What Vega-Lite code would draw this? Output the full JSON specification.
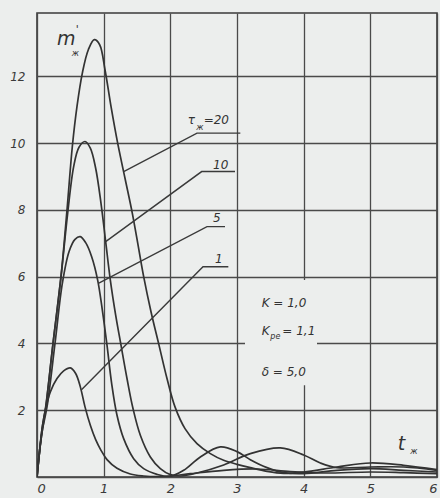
{
  "$schema": "https://vega.github.io/schema/vega-lite/v6.json",
  "width": 400,
  "height": 464,
  "autosize": "none",
  "padding": {"left": 37, "top": 13, "right": 3, "bottom": 21},
  "background": "#eceeed",
  "config": {
    "view": {"stroke": "#3a3a3a", "strokeWidth": 1.6},
    "axis": {
      "grid": true, "gridColor": "#4a4a4a", "gridWidth": 1.3, "gridOpacity": 1,
      "domain": false, "ticks": false,
      "labelFont": "DejaVu Sans", "labelFontStyle": "italic", "labelFontSize": 12,
      "labelColor": "#3a3a3a", "title": null
    }
  },
  "datasets": {
    "curves": [
      {"s":"1","t":0,"m":0},{"s":"1","t":0.04,"m":0.8},{"s":"1","t":0.08,"m":1.5},{"s":"1","t":0.13,"m":2.05},{"s":"1","t":0.2,"m":2.55},{"s":"1","t":0.3,"m":2.95},{"s":"1","t":0.4,"m":3.18},{"s":"1","t":0.5,"m":3.27},{"s":"1","t":0.58,"m":3.1},{"s":"1","t":0.65,"m":2.7},{"s":"1","t":0.72,"m":2.1},{"s":"1","t":0.8,"m":1.55},{"s":"1","t":0.88,"m":1.12},{"s":"1","t":0.96,"m":0.8},{"s":"1","t":1.05,"m":0.52},{"s":"1","t":1.2,"m":0.26},{"s":"1","t":1.4,"m":0.09},{"s":"1","t":1.6,"m":0.03},{"s":"1","t":1.8,"m":0.01},{"s":"1","t":2.0,"m":0.03},{"s":"1","t":2.3,"m":0.1},{"s":"1","t":2.8,"m":0.2},{"s":"1","t":3.3,"m":0.24},{"s":"1","t":3.8,"m":0.16},{"s":"1","t":4.3,"m":0.12},{"s":"1","t":5.0,"m":0.15},{"s":"1","t":5.5,"m":0.13},{"s":"1","t":6.0,"m":0.1},
      {"s":"5","t":0,"m":0},{"s":"5","t":0.04,"m":0.8},{"s":"5","t":0.08,"m":1.4},{"s":"5","t":0.15,"m":2.1},{"s":"5","t":0.27,"m":4.0},{"s":"5","t":0.38,"m":5.8},{"s":"5","t":0.48,"m":6.75},{"s":"5","t":0.57,"m":7.12},{"s":"5","t":0.65,"m":7.2},{"s":"5","t":0.73,"m":7.02},{"s":"5","t":0.82,"m":6.6},{"s":"5","t":0.91,"m":5.9},{"s":"5","t":0.98,"m":5.0},{"s":"5","t":1.05,"m":3.95},{"s":"5","t":1.12,"m":2.8},{"s":"5","t":1.2,"m":1.85},{"s":"5","t":1.3,"m":1.15},{"s":"5","t":1.45,"m":0.55},{"s":"5","t":1.6,"m":0.25},{"s":"5","t":1.8,"m":0.08},{"s":"5","t":2.0,"m":0.02},{"s":"5","t":2.2,"m":0.2},{"s":"5","t":2.45,"m":0.6},{"s":"5","t":2.75,"m":0.9},{"s":"5","t":3.0,"m":0.76},{"s":"5","t":3.2,"m":0.52},{"s":"5","t":3.45,"m":0.28},{"s":"5","t":3.7,"m":0.13},{"s":"5","t":4.0,"m":0.1},{"s":"5","t":4.5,"m":0.2},{"s":"5","t":5.0,"m":0.25},{"s":"5","t":5.5,"m":0.2},{"s":"5","t":6.0,"m":0.15},
      {"s":"10","t":0,"m":0},{"s":"10","t":0.04,"m":0.8},{"s":"10","t":0.08,"m":1.5},{"s":"10","t":0.13,"m":2.1},{"s":"10","t":0.24,"m":4.0},{"s":"10","t":0.36,"m":6.0},{"s":"10","t":0.46,"m":7.9},{"s":"10","t":0.55,"m":9.3},{"s":"10","t":0.63,"m":9.88},{"s":"10","t":0.72,"m":10.05},{"s":"10","t":0.8,"m":9.85},{"s":"10","t":0.88,"m":9.25},{"s":"10","t":0.96,"m":8.2},{"s":"10","t":1.03,"m":7.05},{"s":"10","t":1.1,"m":5.9},{"s":"10","t":1.18,"m":4.85},{"s":"10","t":1.26,"m":3.95},{"s":"10","t":1.35,"m":2.95},{"s":"10","t":1.44,"m":2.05},{"s":"10","t":1.55,"m":1.25},{"s":"10","t":1.7,"m":0.6},{"s":"10","t":1.85,"m":0.25},{"s":"10","t":2.0,"m":0.07},{"s":"10","t":2.15,"m":0.03},{"s":"10","t":2.4,"m":0.12},{"s":"10","t":2.8,"m":0.36},{"s":"10","t":3.2,"m":0.7},{"s":"10","t":3.65,"m":0.87},{"s":"10","t":4.0,"m":0.66},{"s":"10","t":4.25,"m":0.42},{"s":"10","t":4.5,"m":0.28},{"s":"10","t":5.0,"m":0.3},{"s":"10","t":5.5,"m":0.3},{"s":"10","t":6.0,"m":0.2},
      {"s":"20","t":0,"m":0},{"s":"20","t":0.04,"m":0.8},{"s":"20","t":0.08,"m":1.4},{"s":"20","t":0.13,"m":2.05},{"s":"20","t":0.24,"m":4.0},{"s":"20","t":0.36,"m":6.0},{"s":"20","t":0.45,"m":8.0},{"s":"20","t":0.53,"m":9.9},{"s":"20","t":0.6,"m":11.1},{"s":"20","t":0.68,"m":12.1},{"s":"20","t":0.77,"m":12.8},{"s":"20","t":0.86,"m":13.1},{"s":"20","t":0.94,"m":12.95},{"s":"20","t":1.02,"m":12.2},{"s":"20","t":1.11,"m":11.1},{"s":"20","t":1.21,"m":10.0},{"s":"20","t":1.32,"m":8.95},{"s":"20","t":1.43,"m":7.9},{"s":"20","t":1.52,"m":6.9},{"s":"20","t":1.6,"m":6.0},{"s":"20","t":1.71,"m":4.95},{"s":"20","t":1.83,"m":3.95},{"s":"20","t":1.95,"m":2.95},{"s":"20","t":2.07,"m":2.1},{"s":"20","t":2.22,"m":1.45},{"s":"20","t":2.4,"m":1.0},{"s":"20","t":2.6,"m":0.7},{"s":"20","t":2.8,"m":0.5},{"s":"20","t":3.0,"m":0.38},{"s":"20","t":3.2,"m":0.28},{"s":"20","t":3.45,"m":0.17},{"s":"20","t":3.7,"m":0.11},{"s":"20","t":4.0,"m":0.15},{"s":"20","t":4.5,"m":0.3},{"s":"20","t":5.0,"m":0.42},{"s":"20","t":5.5,"m":0.35},{"s":"20","t":6.0,"m":0.22}
    ],
    "leaders": [
      {"lead":"20","o":1,"t":1.3,"m":9.15},{"lead":"20","o":2,"t":2.4,"m":10.3},{"lead":"20","o":3,"t":3.05,"m":10.3},
      {"lead":"10","o":1,"t":1.03,"m":7.05},{"lead":"10","o":2,"t":2.47,"m":9.15},{"lead":"10","o":3,"t":2.97,"m":9.15},
      {"lead":"5","o":1,"t":0.92,"m":5.8},{"lead":"5","o":2,"t":2.55,"m":7.5},{"lead":"5","o":3,"t":2.82,"m":7.5},
      {"lead":"1","o":1,"t":0.66,"m":2.6},{"lead":"1","o":2,"t":2.49,"m":6.3},{"lead":"1","o":3,"t":2.87,"m":6.3}
    ],
    "patch": [{"t1":3.12,"t2":4.2,"m1":2.75,"m2":5.9}],
    "labels": [
      {"txt":"τ","t":2.26,"m":10.56},
      {"txt":"=20","t":2.5,"m":10.56},
      {"txt":"10","t":2.64,"m":9.23},
      {"txt":"5","t":2.64,"m":7.63},
      {"txt":"1","t":2.67,"m":6.4},
      {"txt":"K = 1,0","t":3.37,"m":5.1},
      {"txt":"K","t":3.37,"m":4.25},
      {"txt":"= 1,1","t":3.68,"m":4.25},
      {"txt":"δ =  5,0","t":3.37,"m":3.02}
    ],
    "subs": [
      {"txt":"ж","t":2.39,"m":10.4},
      {"txt":"pe","t":3.5,"m":4.13},
      {"txt":"ж","t":0.52,"m":12.62},
      {"txt":"ж","t":5.6,"m":0.68}
    ],
    "biglabels": [
      {"txt":"m","t":0.3,"m":12.95},
      {"txt":"t","t":5.41,"m":0.8}
    ],
    "primes": [
      {"txt":"'","t":0.58,"m":13.3}
    ]
  },
  "encoding": {
    "x": {"field": "t", "type": "quantitative", "scale": {"domain": [0, 6], "nice": false},
          "axis": {"values": [0,1,2,3,4,5,6], "labelPadding": 5, "labelFontSize": 13}},
    "y": {"field": "m", "type": "quantitative", "scale": {"domain": [0, 13.9], "nice": false},
          "axis": {"values": [0,2,4,6,8,10,12], "labelPadding": 12, "labelExpr": "datum.value == 0 ? '' : datum.label"}}
  },
  "layer": [
    {
      "data": {"name": "patch"},
      "mark": {"type": "rect", "fill": "#eceeed"},
      "encoding": {
        "x": {"field": "t1", "type": "quantitative"},
        "x2": {"field": "t2"},
        "y": {"field": "m1", "type": "quantitative"},
        "y2": {"field": "m2"}
      }
    },
    {
      "data": {"name": "curves"},
      "mark": {"type": "line", "interpolate": "catmull-rom", "color": "#333333", "strokeWidth": 1.7, "clip": true},
      "encoding": {"detail": {"field": "s"}}
    },
    {
      "data": {"name": "leaders"},
      "mark": {"type": "line", "color": "#3a3a3a", "strokeWidth": 1.4},
      "encoding": {"detail": {"field": "lead"}, "order": {"field": "o"}}
    },
    {
      "data": {"name": "labels"},
      "mark": {"type": "text", "align": "left", "baseline": "alphabetic", "font": "DejaVu Sans", "fontStyle": "italic", "fontSize": 12, "color": "#333333"},
      "encoding": {"text": {"field": "txt"}}
    },
    {
      "data": {"name": "subs"},
      "mark": {"type": "text", "align": "left", "baseline": "alphabetic", "font": "DejaVu Sans", "fontStyle": "italic", "fontSize": 8, "color": "#333333"},
      "encoding": {"text": {"field": "txt"}}
    },
    {
      "data": {"name": "biglabels"},
      "mark": {"type": "text", "align": "left", "baseline": "alphabetic", "font": "DejaVu Sans", "fontStyle": "italic", "fontSize": 19, "color": "#333333"},
      "encoding": {"text": {"field": "txt"}}
    },
    {
      "data": {"name": "primes"},
      "mark": {"type": "text", "align": "left", "baseline": "alphabetic", "font": "DejaVu Sans", "fontSize": 11, "color": "#333333"},
      "encoding": {"text": {"field": "txt"}}
    }
  ]
}
